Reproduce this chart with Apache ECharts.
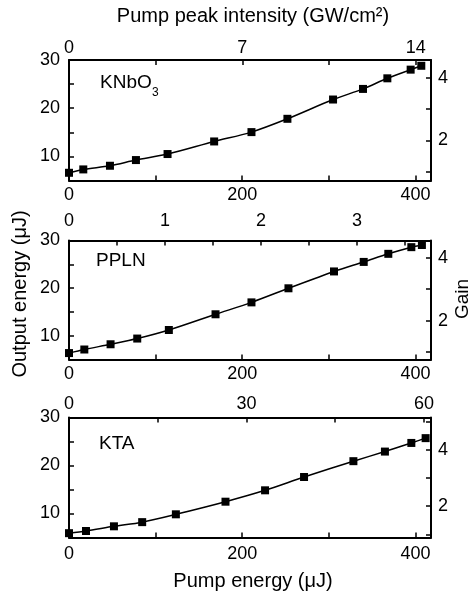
<!DOCTYPE html>
<html>
<head>
<meta charset="utf-8">
<script src="https://cdn.jsdelivr.net/npm/echarts@6/dist/echarts.min.js"></script>
<style>html,body{margin:0;padding:0;background:#fff}#c{width:471px;height:595px}</style>
</head>
<body>
<div id="c"></div>
<script>
// ---- data ----
var knbEnergy = [0, 16.5, 47.3, 77.3, 113.8, 167.6, 210.7, 252.2, 304.9, 339.5, 367.6, 394.5, 406.8];
var knbOutput = [6.6, 7.3, 8.06, 9.24, 10.49, 13.1, 15.04, 17.8, 21.8, 24.0, 26.2, 28.0, 28.8];
var pplnEnergy = [0, 17.7, 48, 78.8, 115.3, 169.2, 210.7, 253.4, 306, 340.3, 368.7, 395.3, 407.5];
var pplnOutput = [6.35, 7.1, 8.2, 9.4, 11.2, 14.5, 17.0, 19.96, 23.5, 25.5, 27.2, 28.6, 29.06];
var ktaEnergy = [0, 19.6, 51.9, 84.5, 123.4, 180.7, 226.4, 271.4, 328.4, 364.8, 395.3, 411.8];
var ktaOutput = [5.9, 6.35, 7.33, 8.2, 9.83, 12.46, 14.83, 17.6, 20.9, 22.9, 24.7, 25.7];

var energyTicks = [0, 100, 200, 300, 400];
var energyLabels = [0, 200, 400];
var outputTicks = [5, 10, 15, 20, 25, 30];
var outputLabels = [10, 20, 30];
var knbIntTicks = [0, 3.5, 7, 10.5, 14];
var knbIntLabels = [0, 7, 14];
var pplnIntTicks = [0, 0.5, 1, 1.5, 2, 2.5, 3, 3.5];
var pplnIntLabels = [0, 1, 2, 3];
var ktaIntTicks = [0, 15, 30, 45, 60];
var ktaIntLabels = [0, 30, 60];
var gainTicks12 = [1, 2, 3, 4];
var gainTicks3 = [1, 2, 3, 4, 5];
var gainLabels = [2, 4];

var FONT = '"Liberation Sans", Arial, sans-serif';
function pairs(xs, ys) { return xs.map(function (x, i) { return [x, ys[i]]; }); }

function axisBase(ticks, labels, margin, min, max, pos, grid) {
  return {
    type: 'value', gridIndex: grid, position: pos, min: min, max: max,
    axisLine: { show: true, onZero: false, lineStyle: { color: '#000', width: 2 } },
    axisTick: { show: true, inside: true, length: 5, customValues: ticks, lineStyle: { color: '#000', width: 1.5 } },
    axisLabel: { show: true, customValues: labels, color: '#000', fontSize: 18, fontFamily: FONT, margin: margin },
    splitLine: { show: false }
  };
}

var grids = [
  { left: 69, right: 40, top: 60, height: 120.5 },
  { left: 69, right: 40, top: 240.5, height: 119 },
  { left: 69, right: 40, top: 417.5, height: 120 }
];

var xAxes = [
  axisBase(energyTicks, energyLabels, 6, 0, 418, 'bottom', 0),
  axisBase(knbIntTicks, knbIntLabels, 3, 0, 14.62, 'top', 0),
  axisBase(energyTicks, energyLabels, 6, 0, 418, 'bottom', 1),
  axisBase(pplnIntTicks, pplnIntLabels, 10, 0, 3.77, 'top', 1),
  axisBase(energyTicks, energyLabels, 8, 0, 418, 'bottom', 2),
  axisBase(ktaIntTicks, ktaIntLabels, 4, 0, 61.2, 'top', 2)
];
var yAxes = [
  axisBase(outputTicks, outputLabels, 9, 5, 30, 'left', 0),
  axisBase(gainTicks12, gainLabels, 7, 0.72, 4.56, 'right', 0),
  axisBase(outputTicks, outputLabels, 9, 5, 30, 'left', 1),
  axisBase(gainTicks12, gainLabels, 7, 0.76, 4.55, 'right', 1),
  axisBase(outputTicks, outputLabels, 9, 5, 30, 'left', 2),
  axisBase(gainTicks3, gainLabels, 7, 0.89, 5.14, 'right', 2)
];

function lineSeries(xs, ys, gi) {
  return {
    type: 'line', xAxisIndex: gi * 2, yAxisIndex: gi * 2, data: pairs(xs, ys),
    smooth: 0.3, symbol: 'rect', symbolSize: 8, clip: true,
    itemStyle: { color: '#000' }, lineStyle: { color: '#000', width: 1.5 }
  };
}

function txt(x, y, s, size, extra) {
  var o = { type: 'text', x: x, y: y, style: { text: s, fill: '#000', font: size + 'px ' + FONT, textVerticalAlign: 'middle', textAlign: 'left' } };
  if (extra) { for (var k in extra) o[k] = extra[k]; }
  return o;
}

var option = {
  animation: false,
  backgroundColor: '#fff',
  grid: grids,
  xAxis: xAxes,
  yAxis: yAxes,
  series: [
    lineSeries(knbEnergy, knbOutput, 0),
    lineSeries(pplnEnergy, pplnOutput, 1),
    lineSeries(ktaEnergy, ktaOutput, 2)
  ],
  graphic: [
    { type: 'text', x: 253, y: 16, style: { text: 'Pump peak intensity (GW/cm²)', fill: '#000', font: '20px ' + FONT, textAlign: 'center', textVerticalAlign: 'middle' } },
    { type: 'text', x: 253, y: 581, style: { text: 'Pump energy (μJ)', fill: '#000', font: '20px ' + FONT, textAlign: 'center', textVerticalAlign: 'middle' } },
    { type: 'text', x: 20, y: 294, rotation: Math.PI / 2, style: { text: 'Output energy (μJ)', fill: '#000', font: '20px ' + FONT, textAlign: 'center', textVerticalAlign: 'middle' } },
    { type: 'text', x: 463, y: 299, rotation: Math.PI / 2, style: { text: 'Gain', fill: '#000', font: '19px ' + FONT, textAlign: 'center', textVerticalAlign: 'middle' } },
    txt(100, 83, 'KNbO', 19),
    txt(152, 93, '3', 12),
    txt(96, 261, 'PPLN', 19),
    txt(99, 444, 'KTA', 19)
  ]
};

var chart = echarts.init(document.getElementById('c'), null, { renderer: 'canvas' });
chart.setOption(option);
</script>
</body>
</html>
